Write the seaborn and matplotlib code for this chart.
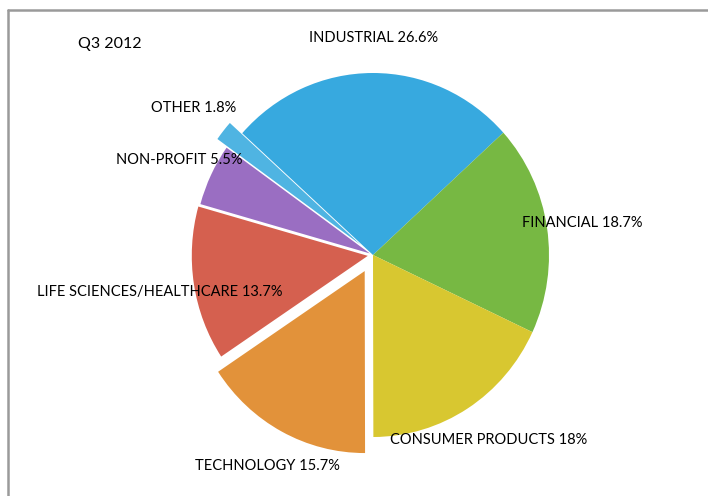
import matplotlib
matplotlib.use('Agg')
import matplotlib.pyplot as plt
from matplotlib.lines import Line2D
import seaborn as sns

# sector shares for Q3 2012, clockwise from the top
sectors = ['INDUSTRIAL', 'FINANCIAL', 'CONSUMER PRODUCTS', 'TECHNOLOGY',
           'LIFE SCIENCES/HEALTHCARE', 'NON-PROFIT', 'OTHER']
shares = [26.6, 18.7, 18, 15.7, 13.7, 5.5, 1.8]
share_text = ['26.6%', '18.7%', '18%', '15.7%', '13.7%', '5.5%', '1.8%']
explode = [0, 0, 0, 0.1, 0.03, 0.02, 0.09]
colors = ['#37a9df', '#77b843', '#d8c730', '#e2923a', '#d5604f', '#9a6ec2', '#4fb4e2']

# label anchor points in figure fractions (x, y)
label_pos = [(0.527, 0.923), (0.822, 0.550), (0.690, 0.112), (0.378, 0.061),
             (0.225, 0.411), (0.253, 0.677), (0.274, 0.782)]

sns.set_style('white')
plt.rcParams['font.family'] = ['Lato', 'DejaVu Sans']

fig = plt.figure(figsize=(7.08, 4.96), dpi=100)
ax = fig.add_axes([0, 0, 1, 1])

ax.pie(shares, explode=explode, colors=colors, startangle=138,
       counterclock=False, radius=1, wedgeprops={'linewidth': 0})

# the original pie is slightly taller than wide
cx, cy, rx, ry = 373, 241, 176, 182
ax.set_aspect('auto')
ax.set_xlim(-cx / rx, (708 - cx) / rx)
ax.set_ylim(-cy / ry, (496 - cy) / ry)
ax.axis('off')

for name, pct, (x, y) in zip(sectors, share_text, label_pos):
    fig.text(x, y, f'{name} {pct}', ha='center', va='center',
             fontsize=10.5, color='#000000')

fig.text(0.110, 0.911, 'Q3 2012', ha='left', va='center', fontsize=11.5,
         color='#000000')

# grey frame on top and left
fig.add_artist(Line2D([7.5 / 708, 1], [1 - 9.5 / 496] * 2,
                      color='#9a9a9a', lw=1.8, transform=fig.transFigure))
fig.add_artist(Line2D([7.5 / 708] * 2, [0, 1 - 9.5 / 496],
                      color='#9a9a9a', lw=1.8, transform=fig.transFigure))

fig.savefig('out.png', dpi=100, facecolor='white')
